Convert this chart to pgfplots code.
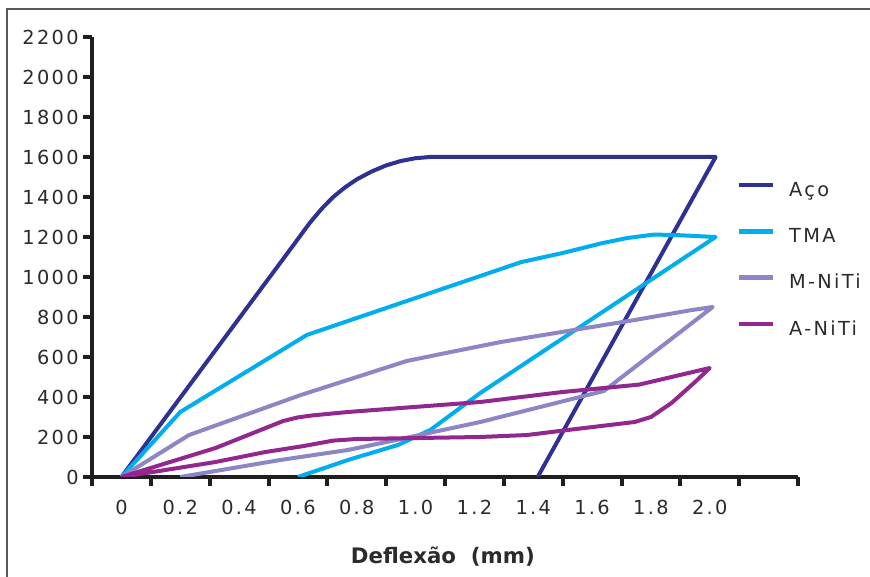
\documentclass[border=0pt]{standalone}
\usepackage{fontspec}
\setmainfont{DejaVu Sans}
\newfontfamily\tickfont{DejaVu Sans}[LetterSpace=12]
\usepackage{pgfplots}
\pgfplotsset{compat=1.18}

\definecolor{aco}{HTML}{2E3192}
\definecolor{tma}{HTML}{00AEEF}
\definecolor{mniti}{HTML}{8C86C6}
\definecolor{aniti}{HTML}{92278F}
\definecolor{txt}{HTML}{2B2B2B}

\begin{document}
\begin{tikzpicture}
\path[use as bounding box] (0,0) rectangle (652.5pt,432.75pt);
% cropped frame of the original figure
\draw[gray!70!black, line width=1pt] (5.25pt,0) -- (5.25pt,426pt) -- (652.5pt,426pt);

\begin{axis}[
    at={(69pt,75pt)}, anchor=south west,
    scale only axis, width=529.5pt, height=330pt,
    xmin=-0.1, xmax=2.3, ymin=0, ymax=2200,
    axis x line=bottom, axis y line=left,
    axis line style={-, line width=3.7pt, black!88},
    tick align=outside,
    major tick length=6.5pt,
    tick style={line width=3pt, black!88},
    xtick={-0.1,0.1,0.3,0.5,0.7,0.9,1.1,1.3,1.5,1.7,1.9,2.1,2.3},
    xticklabels={,,,,,,,,,,,,},
    extra x ticks={0,0.2,0.4,0.6,0.8,1.0,1.2,1.4,1.6,1.8,2.0},
    extra x tick labels={0,0.2,0.4,0.6,0.8,1.0,1.2,1.4,1.6,1.8,2.0},
    extra x tick style={major tick length=0pt, xticklabel style={yshift=-14pt}},
    ytick={0,200,400,600,800,1000,1200,1400,1600,1800,2000,2200},
    /pgf/number format/assume math mode=true,
    ticklabel style={font=\tickfont\fontsize{14.5pt}{17pt}\selectfont, text=txt},
    yticklabel style={/pgf/number format/1000 sep={}},
    xlabel={Deflexão\ \ (mm)},
    xlabel style={font=\bfseries\fontsize{16pt}{19pt}\selectfont, text=txt,
        at={(rel axis cs:0.497,0)}, anchor=center, yshift=-60pt},
    every axis plot/.append style={line width=3pt, line join=round},
    legend style={draw=none, fill=none, inner sep=0pt,
        at={(axis cs:2.09,1080)}, anchor=west,
        row sep=21.5pt, column sep=10pt,
        font=\tickfont\fontsize{14.5pt}{17pt}\selectfont, text=txt,
        nodes={inner sep=0pt, text height=10pt, text depth=3pt}},
    legend cell align=left,
    legend image code/.code={\draw[#1, line width=3.5pt] (0pt,5pt) -- (26pt,5pt);},
]

% Aço
\addplot[aco] coordinates {
    (0,0) (0.58,1150) (0.64,1270) (0.68,1340) (0.72,1400) (0.76,1448)
    (0.80,1488) (0.85,1527) (0.90,1558) (0.95,1580) (1.00,1594) (1.05,1600)
    (2.02,1600) (1.415,0)
};
\addlegendentry{Aço}

% TMA
\addplot[tma] coordinates {
    (0,0) (0.2,325) (0.63,710) (1.36,1075) (1.5,1120) (1.63,1168)
    (1.72,1195) (1.81,1212) (1.88,1210) (2.02,1200)
    (1.22,420) (1.05,235) (0.94,160) (0.77,85) (0.6,0)
};
\addlegendentry{TMA}

% M-NiTi
\addplot[mniti] coordinates {
    (0,0) (0.23,210) (0.61,410) (0.97,580) (1.12,625) (1.29,675)
    (1.745,785) (1.94,835) (2.01,850)
    (1.64,430) (1.22,275) (0.95,190) (0.77,135) (0.54,85) (0.2,0)
};
\addlegendentry{M-NiTi}

% A-NiTi
\addplot[aniti] coordinates {
    (0,0) (0.32,145) (0.55,280) (0.6,298) (0.65,308) (0.77,325)
    (1.22,375) (1.5,425) (1.76,462) (2.0,545)
    (1.95,475) (1.87,370) (1.80,300) (1.745,275) (1.5,232) (1.38,210)
    (1.22,200) (0.8,190) (0.72,182) (0.62,155) (0.49,125) (0.32,75) (0,0)
};
\addlegendentry{A-NiTi}

\end{axis}
\end{tikzpicture}
\end{document}
